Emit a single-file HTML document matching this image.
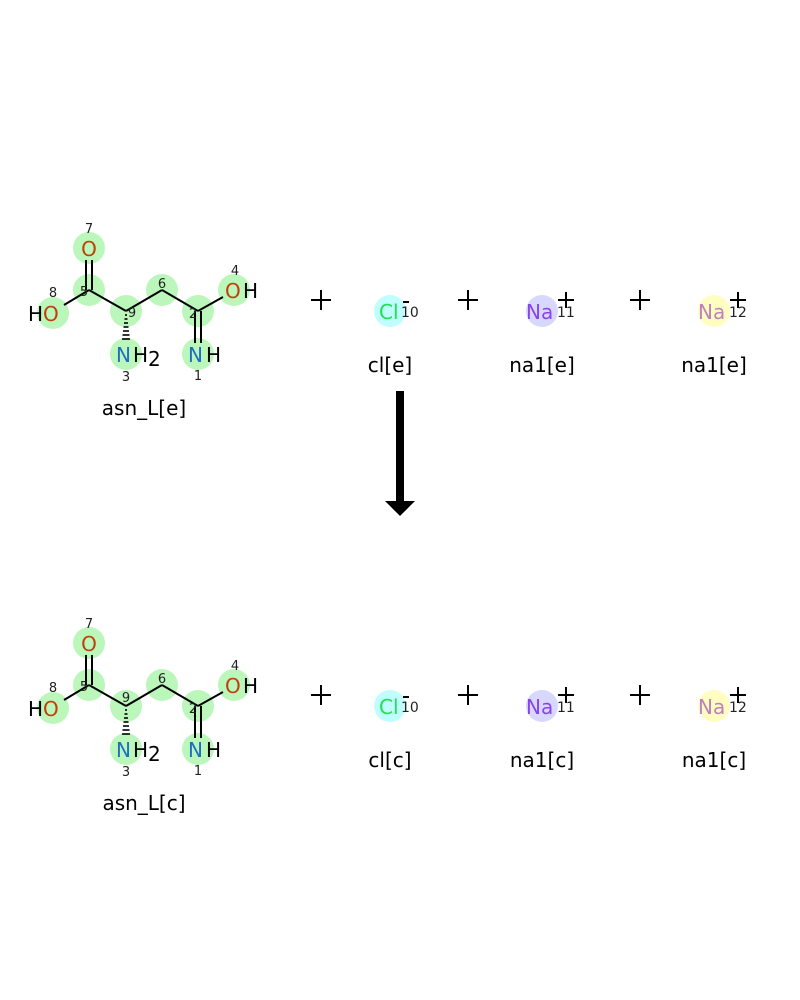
<!DOCTYPE html>
<html><head><style>body{margin:0;background:#fff}svg{display:block}text{font-family:"DejaVu Sans","Liberation Sans",sans-serif}</style></head><body>
<svg width="800" height="1000" viewBox="0 0 800 1000" xmlns="http://www.w3.org/2000/svg">
<defs>
<g id="mol">
<g fill="#bbf7bb">
<circle cx="89" cy="248" r="16"/><circle cx="89" cy="290" r="16"/><circle cx="53" cy="313" r="16"/>
<circle cx="126" cy="311" r="16"/><circle cx="162" cy="290" r="16"/><circle cx="198" cy="311" r="16"/>
<circle cx="234" cy="290" r="16"/><circle cx="126" cy="354" r="16"/><circle cx="198" cy="354" r="16"/>
</g>
<g stroke="#000" stroke-width="2" fill="none">
<line x1="86" y1="260" x2="86" y2="290"/><line x1="92" y1="260" x2="92" y2="290"/>
<line x1="89" y1="290" x2="64" y2="305"/>
<line x1="89" y1="290" x2="126" y2="311"/>
<line x1="126" y1="311" x2="162" y2="290"/>
<line x1="162" y1="290" x2="198" y2="311"/>
<line x1="198" y1="311" x2="223" y2="297"/>
<line x1="195" y1="311" x2="195" y2="343"/><line x1="201" y1="311" x2="201" y2="343"/>
</g>
<g stroke="#000" stroke-width="1.6">
<line x1="125" y1="315" x2="127" y2="315"/><line x1="124.5" y1="319" x2="127.5" y2="319"/>
<line x1="124" y1="323" x2="128" y2="323"/><line x1="123.5" y1="327" x2="128.5" y2="327"/>
<line x1="123" y1="331" x2="129" y2="331"/><line x1="122.5" y1="335" x2="129.5" y2="335"/>
<line x1="122" y1="339" x2="130" y2="339"/>
</g>
<g font-size="20">
<text x="89" y="256" fill="#c0400a" text-anchor="middle">O</text>
<text x="28" y="321" fill="#000">H</text><text x="43" y="321" fill="#c0400a">O</text>
<text x="225" y="298" fill="#c0400a">O</text><text x="243" y="298" fill="#000">H</text>
<text x="116" y="362" fill="#1f6fc0">N</text><text x="133" y="362" fill="#000">H</text><text x="148" y="366" fill="#000">2</text>
<text x="188" y="362" fill="#1f6fc0">N</text><text x="206" y="362" fill="#000">H</text>
</g>
<g font-size="13" fill="#222" text-anchor="middle">
<text x="89" y="233">7</text><text x="53" y="297">8</text><text x="84" y="296">5</text>
<text x="162" y="288">6</text><text x="193" y="318">2</text><text x="235" y="275">4</text>
<text x="126" y="381">3</text><text x="198" y="380">1</text>
</g>
</g>
<g id="ions">
<circle cx="390" cy="311" r="16" fill="#c0fdfd"/>
<circle cx="542" cy="311" r="16" fill="#d8d8ff"/>
<circle cx="714" cy="311" r="16" fill="#fffec0"/>
<g font-size="20">
<text x="379" y="319" fill="#22dd55">Cl</text>
<text x="526" y="319" fill="#8844ee">Na</text>
<text x="698" y="319" fill="#c080c0">Na</text>
</g>
<g font-size="14" fill="#222">
<text x="401" y="317">10</text><text x="557" y="317">11</text><text x="729" y="317">12</text>
</g>
<g stroke="#000" stroke-width="2">
<line x1="403" y1="302" x2="409" y2="302"/>
<line x1="558" y1="300" x2="574" y2="300"/><line x1="566" y1="292" x2="566" y2="308"/>
<line x1="730" y1="300" x2="746" y2="300"/><line x1="738" y1="292" x2="738" y2="308"/>
<line x1="311" y1="300" x2="331" y2="300"/><line x1="321" y1="290" x2="321" y2="310"/>
<line x1="458" y1="300" x2="478" y2="300"/><line x1="468" y1="290" x2="468" y2="310"/>
<line x1="630" y1="300" x2="650" y2="300"/><line x1="640" y1="290" x2="640" y2="310"/>
</g>
</g>
</defs>
<use href="#mol"/>
<text x="132" y="317" font-size="13" fill="#222" text-anchor="middle">9</text>
<use href="#ions"/>
<g font-size="20" fill="#000" text-anchor="middle">
<text x="144" y="415">asn_L[e]</text>
<text x="390" y="372">cl[e]</text><text x="542" y="372">na1[e]</text><text x="714" y="372">na1[e]</text>
</g>
<g transform="translate(0,395)">
<use href="#mol"/>
<text x="126" y="307" font-size="13" fill="#222" text-anchor="middle">9</text>
<use href="#ions"/>
<g font-size="20" fill="#000" text-anchor="middle">
<text x="144" y="415">asn_L[c]</text>
<text x="390" y="372">cl[c]</text><text x="542" y="372">na1[c]</text><text x="714" y="372">na1[c]</text>
</g>
</g>
<rect x="396" y="391" width="8" height="111" fill="#000"/>
<polygon points="385,501 415,501 400,516" fill="#000"/>
</svg>
</body></html>
